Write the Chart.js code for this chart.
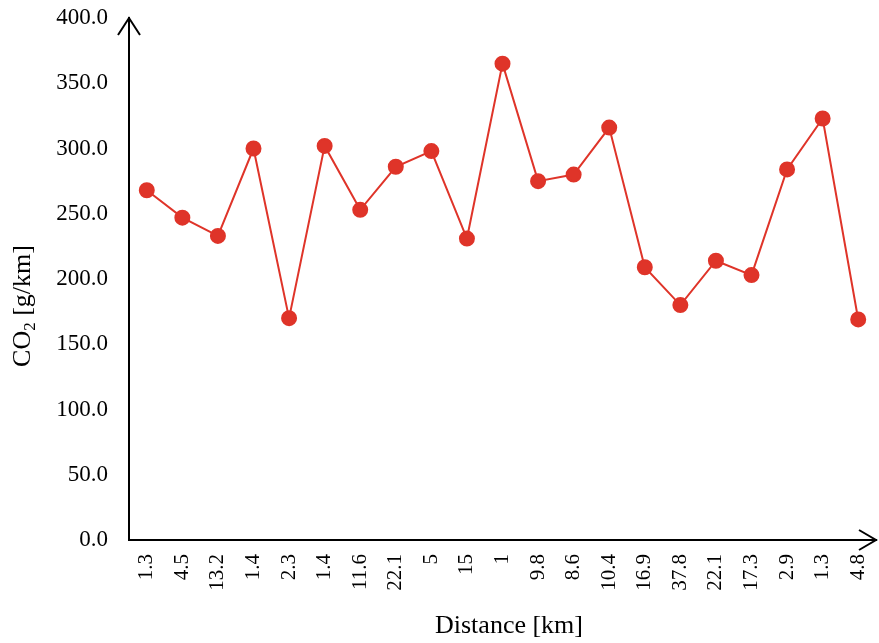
<!DOCTYPE html>
<html>
<head>
<meta charset="utf-8">
<script src="https://cdn.jsdelivr.net/npm/chart.js@4/dist/chart.umd.min.js"></script>
<style>
  html, body { margin: 0; padding: 0; background: #fff; }
  #wrap { width: 879px; height: 643px; }
</style>
</head>
<body>
<div id="wrap"><canvas id="co2Chart"></canvas></div>
<script>
// CO2 per trip, labelled by trip distance
const distances = ['1.3', '4.5', '13.2', '1.4', '2.3', '1.4', '11.6', '22.1', '5', '15', '1',
  '9.8', '8.6', '10.4', '16.9', '37.8', '22.1', '17.3', '2.9', '1.3', '4.8'];
const co2Values = [268, 247, 233, 300, 170, 302, 253, 286, 298, 231, 365,
  275, 280, 316, 209, 180, 214, 203, 284, 323, 169];
const yTicks = [0, 50, 100, 150, 200, 250, 300, 350, 400];

const serif = "'Liberation Serif', 'Times New Roman', serif";
const red = '#DF3429';

// arrows on the axes + axis titles (CO2 with subscript)
const axisDecor = {
  id: 'axisDecor',
  afterDraw(chart) {
    const { ctx, chartArea: a } = chart;
    ctx.save();
    ctx.strokeStyle = '#000';
    ctx.lineWidth = 2;
    ctx.beginPath();
    ctx.moveTo(a.left - 11, a.top + 17);
    ctx.lineTo(a.left, a.top);
    ctx.lineTo(a.left + 11, a.top + 17);
    ctx.moveTo(a.right - 17, a.bottom - 10);
    ctx.lineTo(a.right, a.bottom);
    ctx.lineTo(a.right - 17, a.bottom + 10);
    ctx.stroke();

    ctx.fillStyle = '#000';
    ctx.textBaseline = 'alphabetic';
    ctx.font = '26px ' + serif;
    ctx.textAlign = 'center';
    ctx.fillText('Distance [km]', 509, 633);

    // y title, rotated
    ctx.translate(30, 306);
    ctx.rotate(-Math.PI / 2);
    const p1 = 'CO', p2 = '2', p3 = ' [g/km]';
    ctx.font = '26px ' + serif;
    const w1 = ctx.measureText(p1).width;
    const w3 = ctx.measureText(p3).width;
    ctx.font = '17px ' + serif;
    const w2 = ctx.measureText(p2).width;
    let x = -(w1 + w2 + w3) / 2;
    ctx.textAlign = 'left';
    ctx.font = '26px ' + serif;
    ctx.fillText(p1, x, 0);
    x += w1;
    ctx.font = '17px ' + serif;
    ctx.fillText(p2, x, 5);
    x += w2;
    ctx.font = '26px ' + serif;
    ctx.fillText(p3, x, 0);
    ctx.restore();
  }
};

const ctx = document.getElementById('co2Chart');
new Chart(ctx, {
  type: 'line',
  data: {
    labels: distances,
    datasets: [{
      data: co2Values,
      borderColor: red,
      backgroundColor: red,
      pointBackgroundColor: red,
      pointBorderColor: red,
      borderWidth: 2,
      pointRadius: 7,
      tension: 0,
      clip: false,
    }]
  },
  plugins: [axisDecor],
  options: {
    responsive: true,
    maintainAspectRatio: false,
    animation: false,
    layout: {
      autoPadding: false,
      padding: { top: 18, right: 3, left: 0, bottom: 0 },
    },
    plugins: {
      legend: { display: false },
      tooltip: { enabled: false },
    },
    scales: {
      x: {
        offset: true,
        grid: { display: false, drawTicks: false },
        border: { display: true, color: '#000', width: 2 },
        ticks: {
          color: '#000',
          font: { family: serif, size: 21 },
          minRotation: 90,
          maxRotation: 90,
          padding: 14,
          autoSkip: false,
        },
        afterFit(scale) {
          scale.height = 103;
          scale.paddingLeft = 0;
          scale.paddingRight = 0;
        },
      },
      y: {
        min: 0,
        max: 400,
        afterBuildTicks(scale) { scale.ticks = yTicks.map(v => ({ value: v })); },
        grid: { display: false, drawTicks: false },
        border: { display: true, color: '#000', width: 2 },
        ticks: {
          color: '#000',
          font: { family: serif, size: 23 },
          padding: 21,
          callback: v => v.toFixed(1),
        },
        afterFit(scale) {
          scale.width = 129;
          scale.paddingTop = 0;
          scale.paddingBottom = 0;
        },
      },
    },
  },
});
</script>
</body>
</html>
